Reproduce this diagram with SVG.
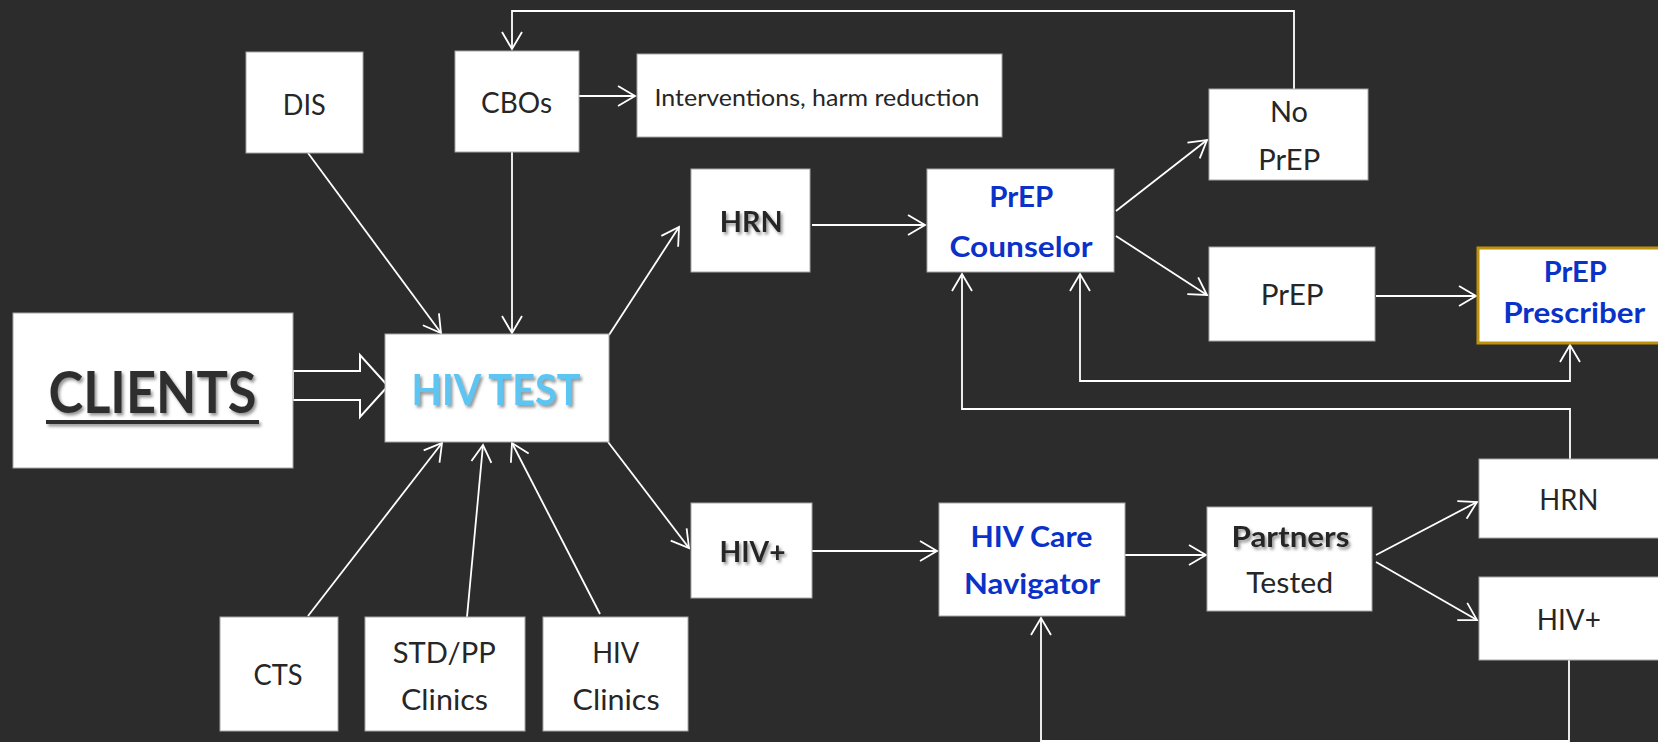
<svg xmlns="http://www.w3.org/2000/svg" width="1658" height="742" viewBox="0 0 1658 742">
<style>
.bg{fill:#2c2c2c}
.box{fill:#ffffff;stroke:#a6a6a6;stroke-width:1}
.t{font-family:Lato,"Open Sans","Liberation Sans",sans-serif;font-size:29px;fill:#262626;text-anchor:middle}
.b{font-weight:bold}
.blue{fill:#0a32c8;font-weight:bold;font-size:28px}
.big{font-size:58px;fill:#2e2e2e}
.test{font-size:42px;fill:#5bc5f2}
.small{font-size:24px}
.sh{filter:url(#shadow)}
.c{fill:none;stroke:#ffffff;stroke-width:1.8;marker-end:url(#ah)}
.faint{fill:none;stroke:#cfcfcf;stroke-width:1.5;stroke-opacity:0.45}
</style>
<defs>
<marker id="ah" markerUnits="userSpaceOnUse" markerWidth="20" markerHeight="22" viewBox="-1 -1 20 22" refX="17" refY="10" orient="auto">
<path d="M0,0 L17,10 L0,20" fill="none" stroke="#ffffff" stroke-width="1.8"/>
</marker>
<marker id="ahs" markerUnits="userSpaceOnUse" markerWidth="20" markerHeight="22" viewBox="-1 -1 20 22" refX="17" refY="10" orient="auto-start-reverse">
<path d="M0,0 L17,10 L0,20" fill="none" stroke="#ffffff" stroke-width="1.8"/>
</marker>
<filter id="shadow" x="-10%" y="-20%" width="130%" height="150%">
<feDropShadow dx="2" dy="2.5" stdDeviation="1.5" flood-color="#7a7a7a" flood-opacity="0.8"/>
</filter>
</defs>
<rect class="bg" x="0" y="0" width="1658" height="742"/>

<g id="connectors">
<path class="c" d="M1294,89 V11 H512 V49"/>
<path class="c" d="M579,96 H635"/>
<path class="c" d="M308,153 L441,333"/>
<path class="c" d="M512,152 V333"/>
<path class="faint" d="M583,375 L609,335"/>
<path class="c" d="M609,335 L679,227"/>
<path class="faint" d="M580,411 L608,442"/>
<path class="c" d="M608,442 L689,548"/>
<path class="c" d="M308,616 L442,443"/>
<path class="c" d="M467,617 L483,445"/>
<path class="c" d="M600,614 L512,443"/>
<path class="c" d="M812,225 H925"/>
<path class="c" d="M1116,211 L1207,140"/>
<path class="c" d="M1116,236 L1207,295"/>
<path class="c" d="M1376,296 H1476"/>
<path fill="none" stroke="#ffffff" stroke-width="1.8" marker-start="url(#ahs)" marker-end="url(#ah)" d="M1080,274 V381 H1570 V345"/>
<path class="c" d="M1570,459 V409 H962 V274"/>
<path class="c" d="M812,551 H937"/>
<path class="c" d="M1125,555 H1206"/>
<path class="c" d="M1376,555 L1477,502"/>
<path class="c" d="M1376,562 L1477,620"/>
<path class="c" d="M1569,660 V741 H1041 V618"/>
<path d="M293,371 H360 V355 L388,386 L360,417 V400 H293 Z" fill="#2c2c2c" stroke="#ffffff" stroke-width="2"/>
</g>

<g id="clients">
<rect class="box" x="13" y="313" width="280" height="155"/>
<g class="sh">
<text class="t b big" x="152.5" y="413" textLength="208" lengthAdjust="spacingAndGlyphs">CLIENTS</text>
<rect x="46" y="420" width="213" height="4" fill="#2e2e2e"/>
</g>
</g>

<g id="hivtest">
<rect class="box" x="385" y="334" width="224" height="108"/>
<text class="t b test sh" x="496" y="405" textLength="169" lengthAdjust="spacingAndGlyphs">HIV TEST</text>
</g>

<g id="dis">
<rect class="box" x="246" y="52" width="117" height="101"/>
<text class="t" x="304.3" y="115" textLength="43" lengthAdjust="spacingAndGlyphs">DIS</text>
</g>

<g id="cbos">
<rect class="box" x="455" y="51" width="124" height="101"/>
<text class="t" x="516.5" y="113" textLength="71" lengthAdjust="spacingAndGlyphs">CBOs</text>
</g>

<g id="interventions">
<rect class="box" x="637" y="54" width="365" height="83"/>
<text class="t small" x="817" y="106" textLength="325" lengthAdjust="spacingAndGlyphs">Interventions, harm reduction</text>
</g>

<g id="hrn1">
<rect class="box" x="691" y="169" width="119" height="103"/>
<text class="t b sh" x="751.3" y="231.7" textLength="63" lengthAdjust="spacingAndGlyphs">HRN</text>
</g>

<g id="prepcounselor">
<rect class="box" x="927" y="169" width="187" height="103"/>
<text class="t blue" x="1021.2" y="207.3" textLength="64" lengthAdjust="spacingAndGlyphs">PrEP</text>
<text class="t blue" x="1021" y="256.7" textLength="143" lengthAdjust="spacingAndGlyphs">Counselor</text>
</g>

<g id="noprep">
<rect class="box" x="1209" y="89" width="159" height="91"/>
<text class="t" x="1289" y="121.7" textLength="38" lengthAdjust="spacingAndGlyphs">No</text>
<text class="t" x="1289.2" y="170" textLength="62" lengthAdjust="spacingAndGlyphs">PrEP</text>
</g>

<g id="prep">
<rect class="box" x="1209" y="247" width="166" height="94"/>
<text class="t" x="1292.2" y="305" textLength="63" lengthAdjust="spacingAndGlyphs">PrEP</text>
</g>

<g id="prescriber">
<rect x="1478" y="248" width="200" height="95" fill="#ffffff" stroke="#c0920c" stroke-width="3"/>
<text class="t blue" x="1575.3" y="281.7" textLength="63" lengthAdjust="spacingAndGlyphs">PrEP</text>
<text class="t blue" x="1574.2" y="322.7" textLength="142" lengthAdjust="spacingAndGlyphs">Prescriber</text>
</g>

<g id="hivpos1">
<rect class="box" x="691" y="503" width="121" height="95"/>
<text class="t b sh" x="752.5" y="561.7" textLength="66" lengthAdjust="spacingAndGlyphs">HIV+</text>
</g>

<g id="hivcare">
<rect class="box" x="939" y="503" width="186" height="113"/>
<text class="t blue" x="1031.5" y="546.7" textLength="122" lengthAdjust="spacingAndGlyphs">HIV Care</text>
<text class="t blue" x="1032" y="594.3" textLength="136" lengthAdjust="spacingAndGlyphs">Navigator</text>
</g>

<g id="partners">
<rect class="box" x="1207" y="507" width="165" height="104"/>
<text class="t b sh" x="1290.5" y="546.7" textLength="118" lengthAdjust="spacingAndGlyphs">Partners</text>
<text class="t" x="1289.7" y="593.3" textLength="87" lengthAdjust="spacingAndGlyphs">Tested</text>
</g>

<g id="hrn2">
<rect class="box" x="1479" y="459" width="200" height="79"/>
<text class="t" x="1568.8" y="510" textLength="59" lengthAdjust="spacingAndGlyphs">HRN</text>
</g>

<g id="hivpos2">
<rect class="box" x="1479" y="577" width="200" height="83"/>
<text class="t" x="1568.8" y="630" textLength="64" lengthAdjust="spacingAndGlyphs">HIV+</text>
</g>

<g id="cts">
<rect class="box" x="220" y="617" width="118" height="114"/>
<text class="t" x="278" y="685" textLength="49" lengthAdjust="spacingAndGlyphs">CTS</text>
</g>

<g id="stdpp">
<rect class="box" x="365" y="617" width="160" height="114"/>
<text class="t" x="444.2" y="663.3" textLength="103" lengthAdjust="spacingAndGlyphs">STD/PP</text>
<text class="t" x="444.5" y="710" textLength="87" lengthAdjust="spacingAndGlyphs">Clinics</text>
</g>

<g id="hivclinics">
<rect class="box" x="543" y="617" width="145" height="114"/>
<text class="t" x="615.7" y="663" textLength="47" lengthAdjust="spacingAndGlyphs">HIV</text>
<text class="t" x="616.1" y="710" textLength="87" lengthAdjust="spacingAndGlyphs">Clinics</text>
</g>
</svg>
